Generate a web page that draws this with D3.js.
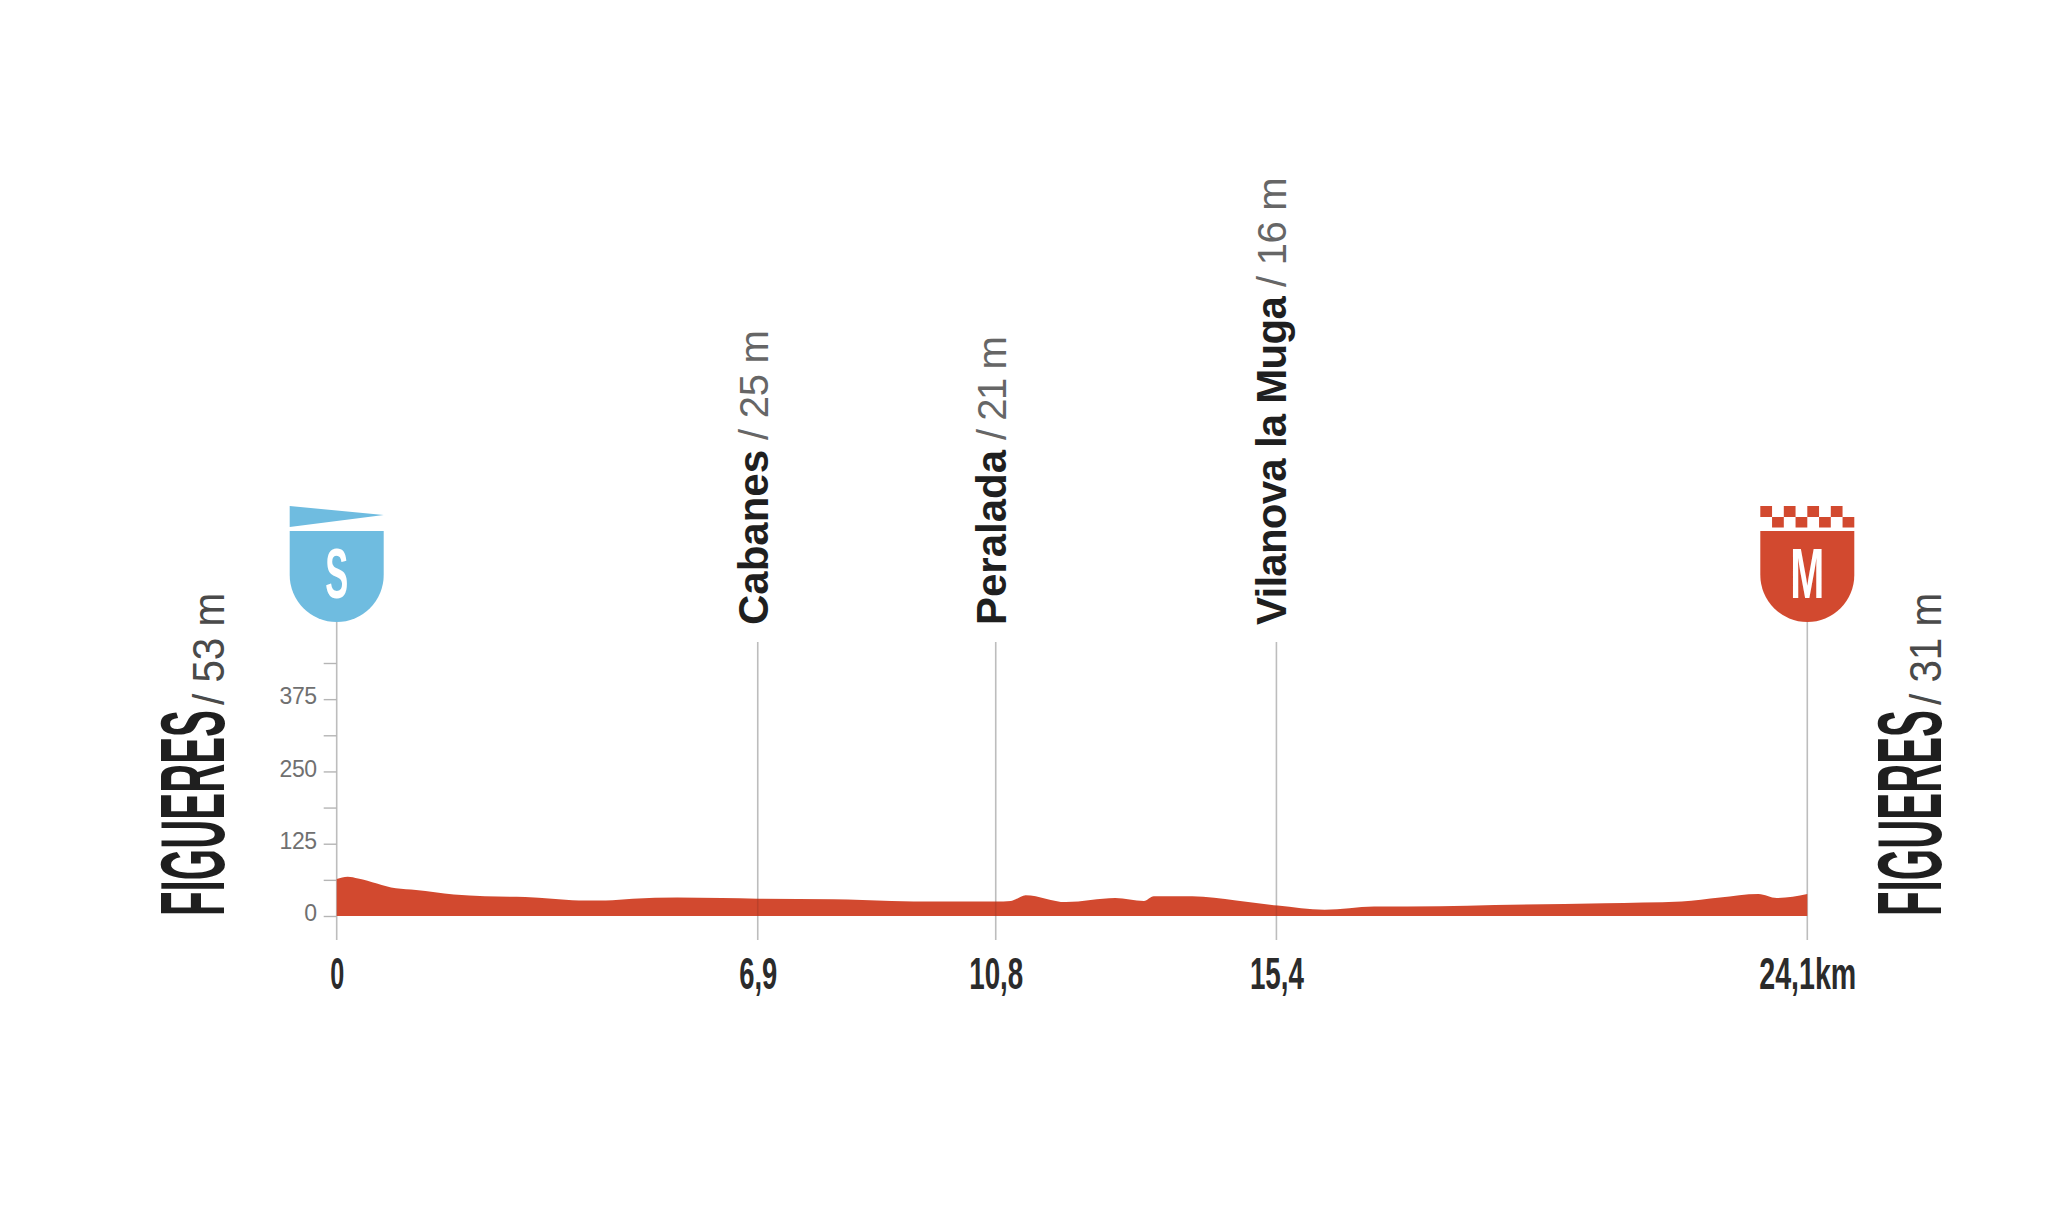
<!DOCTYPE html>
<html>
<head>
<meta charset="utf-8">
<script src="https://cdn.jsdelivr.net/npm/d3@7"></script>
<style>
html,body{margin:0;padding:0;background:#fff;}
svg{display:block;}
.narrow{font-family:"Liberation Sans Narrow","Liberation Sans",sans-serif;}
.sans{font-family:"Liberation Sans",Arial,sans-serif;}
</style>
</head>
<body>
<script>
// ---- data ----
const profileKm = [0,0.18,0.35,0.97,1.3,1.92,2.43,3.09,3.53,3.97,4.41,4.85,5.58,6.31,6.9,8.14,9.09,9.82,10.8,11.05,11.29,11.95,12.76,13.23,13.39,14.02,14.74,15.42,16.19,17.0,18.08,18.98,20.78,22.04,22.67,23.3,23.6,24.1];
const profileElev = [64,68,65,48,45,37,34,33,30,27,27,30,32,31,30,29,26,25,25,26,36,24,31,26,34,34,27,18,11,16.5,17,19,22,25,32,38,31,38];
const yTicks = [0,62.5,125,187.5,250,312.5,375,437.5];
const yLabelled = [0,125,250,375];
const townNames = ["Cabanes","Peralada","Vilanova la Muga"];
const townElev = ["/ 25 m","/ 21 m","/ 16 m"];
const townKm = [6.9,10.8,15.4];
const townElevAtKm = [30,25,18];
const kmTicks = [0,6.9,10.8,15.4,24.1];
const kmLabels = ["0","6,9","10,8","15,4","24,1km"];
const startFinishKm = [0,24.1];
const placeName = "FIGUERES";
const placeElev = ["/ 53 m","/ 31 m"];
const badgeLetters = ["S","M"];

// ---- style and layout ----
const colBlue = "#6fbce0", colRed = "#d2492f";
const kmLabelWidths = [14,38,54,54,97];
const townTracking = [0,0,-0.75];
const elevTracking = [-0.3,-1.5,-0.3];
const W = 2062, H = 1208;
const x = d3.scaleLinear().domain([0,24.1]).range([336.7,1807.3]);
const y = d3.scaleLinear().domain([0,437.5]).range([916,663]);
const axisBottomY = 940, shieldTop = 531, shieldBottom = 622, shieldW = 94;

const svg = d3.select("body").append("svg").attr("width",W).attr("height",H).attr("viewBox",`0 0 ${W} ${H}`);

// drop lines
svg.selectAll(".town-line").data(townKm).join("line").attr("class","town-line")
  .attr("x1",d=>x(d)).attr("x2",d=>x(d)).attr("y1",642).attr("y2",axisBottomY)
  .attr("stroke","#bdbdbd").attr("stroke-width",1.6);
svg.selectAll(".end-line").data(startFinishKm).join("line").attr("class","end-line")
  .attr("x1",d=>x(d)).attr("x2",d=>x(d)).attr("y1",shieldBottom).attr("y2",axisBottomY)
  .attr("stroke","#bdbdbd").attr("stroke-width",1.6);

// elevation axis
const yAxis = d3.axisLeft(y).tickValues(yTicks).tickSize(13).tickPadding(7)
  .tickFormat(d=>yLabelled.includes(d)?String(d):"");
const yG = svg.append("g").attr("transform",`translate(${x(0)},0)`).call(yAxis);
yG.select(".domain").remove();
yG.selectAll(".tick line").attr("stroke","#b5b5b5").attr("stroke-width",1.4);
yG.selectAll(".tick text").attr("class","sans").attr("font-size",23).attr("fill","#707070")
  .style("letter-spacing","-0.4px").attr("dy","0.2em");

// profile
const area = d3.area().x((d,i)=>x(profileKm[i])).y0(y(0)).y1(d=>y(d)).curve(d3.curveMonotoneX);
svg.append("path").datum(profileElev).attr("d",area).attr("fill",colRed);
// darker crossing of the drop lines
svg.selectAll(".town-over").data(townKm).join("line").attr("class","town-over")
  .attr("x1",d=>x(d)).attr("x2",d=>x(d)).attr("y1",(d,i)=>y(townElevAtKm[i])).attr("y2",y(0))
  .attr("stroke","#000").attr("stroke-opacity",0.1).attr("stroke-width",1.6);

// km labels
const xAxis = d3.axisBottom(x).tickValues(kmTicks).tickSize(0)
  .tickFormat((d,i)=>kmLabels[i]);
const xG = svg.append("g").attr("transform",`translate(0,${y(0)})`).call(xAxis);
xG.select(".domain").remove();
xG.selectAll(".tick text").attr("class","narrow").attr("font-size",44).attr("font-weight",700)
  .attr("fill","#2b2b2b").attr("y",0).attr("dy",73)
  .attr("textLength",(d,i)=>kmLabelWidths[i]).attr("lengthAdjust","spacingAndGlyphs");

// town labels
const towns = svg.selectAll(".town").data(townKm).join("text").attr("class","town sans")
  .attr("transform",d=>`translate(${x(d)+10},625) rotate(-90)`).attr("font-size",42);
towns.append("tspan").attr("font-weight",700).attr("fill","#1f1f1f")
  .style("letter-spacing",(d,i)=>townTracking[i]+"px").text((d,i)=>townNames[i]);
towns.append("tspan").attr("fill","#666").attr("font-size",40).attr("dx",10)
  .style("letter-spacing",(d,i)=>elevTracking[i]+"px").text((d,i)=>townElev[i]);

// side place labels
const sides = [224,1941];
sides.forEach((bx,i)=>{
  svg.append("text").attr("class","narrow").attr("transform",`translate(${bx},916) rotate(-90)`)
    .attr("font-size",90).attr("font-weight",700).attr("fill","#1f1f1f")
    .attr("textLength",206).attr("lengthAdjust","spacingAndGlyphs").text(placeName);
  svg.append("text").attr("class","narrow").attr("transform",`translate(${bx},705) rotate(-90)`)
    .attr("font-size",45).attr("fill","#4a4a4a")
    .attr("textLength",112).attr("lengthAdjust","spacingAndGlyphs").text(placeElev[i]);
});

// badges
const badge = svg.selectAll(".badge").data(startFinishKm).join("g").attr("class","badge")
  .attr("transform",d=>`translate(${x(d)},0)`);
const r = shieldW/2;
badge.append("path")
  .attr("d",`M${-r},${shieldTop}H${r}V${shieldBottom-r}A${r},${r} 0 0 1 ${-r},${shieldBottom-r}Z`)
  .attr("fill",(d,i)=>i?colRed:colBlue);
badge.append("text").attr("class","narrow").attr("text-anchor","middle").attr("y",598)
  .attr("font-size",70).attr("font-weight",700).attr("fill","#fff")
  .attr("textLength",(d,i)=>i?34:23).attr("lengthAdjust","spacingAndGlyphs")
  .text((d,i)=>badgeLetters[i]);

// start pennant
d3.select(badge.nodes()[0]).append("path")
  .attr("d",`M${-r},506L${r},515L${-r},527Z`).attr("fill",colBlue);

// finish checker
const cols = d3.range(8), cell = shieldW/8;
const finish = d3.select(badge.nodes()[1]);
cols.forEach(c=>{
  finish.append("rect").attr("x",-r+c*cell).attr("y",c%2?517:506)
    .attr("width",cell).attr("height",c%2?10.5:11).attr("fill",colRed);
});
</script>
</body>
</html>
